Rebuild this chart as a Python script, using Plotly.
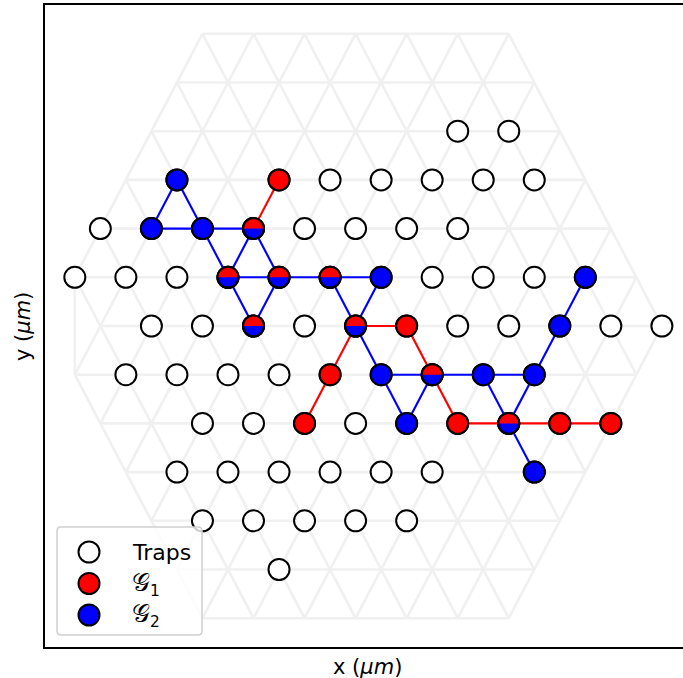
import numpy as np
import plotly.graph_objects as go

# ---------------- data (lattice indices: column c, row r) ----------------
# x = c * a / 2 ,  y = r * a * sqrt(3) / 2
lattice_spacing = 1.0
hex_side = 6
grid_missing_sites = [(-12, 0)]
grid_extra_edges = [((-11, 1), (-11, -1))]

trap_sites = [
    (4, 4), (6, 4),
    (-7, 3), (-3, 3), (-1, 3), (1, 3), (3, 3), (5, 3), (7, 3),
    (-10, 2), (-8, 2), (-6, 2), (-4, 2), (-2, 2), (0, 2), (2, 2), (4, 2),
    (-11, 1), (-9, 1), (-7, 1), (-5, 1), (-3, 1), (-1, 1), (1, 1), (3, 1), (5, 1), (7, 1), (9, 1),
    (-8, 0), (-6, 0), (-4, 0), (-2, 0), (0, 0), (2, 0), (4, 0), (6, 0), (8, 0), (10, 0), (12, 0),
    (-9, -1), (-7, -1), (-5, -1), (-3, -1), (-1, -1), (1, -1), (3, -1), (5, -1), (7, -1),
    (-6, -2), (-4, -2), (-2, -2), (0, -2), (2, -2), (4, -2), (6, -2), (8, -2), (10, -2),
    (-7, -3), (-5, -3), (-3, -3), (-1, -3), (1, -3), (3, -3), (7, -3),
    (-6, -4), (-4, -4), (-2, -4), (0, -4), (2, -4),
    (-3, -5),
]

g1_nodes = [(-3, 3), (-4, 2), (-5, 1), (-3, 1), (-1, 1), (-4, 0), (0, 0), (2, 0),
            (-1, -1), (3, -1), (-2, -2), (4, -2), (6, -2), (8, -2), (10, -2)]
g2_nodes = [(-7, 3), (-8, 2), (-6, 2), (-4, 2), (-5, 1), (-3, 1), (-1, 1), (1, 1), (9, 1),
            (-4, 0), (0, 0), (8, 0), (1, -1), (3, -1), (5, -1), (7, -1), (2, -2), (6, -2), (7, -3)]

g1_edges = [((-3, 3), (-4, 2)), ((-4, 2), (-5, 1)), ((-4, 2), (-3, 1)), ((-5, 1), (-3, 1)),
            ((-3, 1), (-1, 1)), ((-5, 1), (-4, 0)), ((-3, 1), (-4, 0)), ((-1, 1), (0, 0)),
            ((0, 0), (2, 0)), ((0, 0), (-1, -1)), ((-1, -1), (-2, -2)), ((2, 0), (3, -1)),
            ((3, -1), (4, -2)), ((4, -2), (6, -2)), ((6, -2), (8, -2)), ((8, -2), (10, -2))]
g2_edges = [((-7, 3), (-8, 2)), ((-7, 3), (-6, 2)), ((-8, 2), (-6, 2)), ((-6, 2), (-4, 2)),
            ((-6, 2), (-5, 1)), ((-4, 2), (-5, 1)), ((-4, 2), (-3, 1)), ((-5, 1), (-3, 1)),
            ((-3, 1), (-1, 1)), ((-1, 1), (1, 1)), ((-5, 1), (-4, 0)), ((-3, 1), (-4, 0)),
            ((-1, 1), (0, 0)), ((1, 1), (0, 0)), ((0, 0), (1, -1)), ((1, -1), (3, -1)),
            ((1, -1), (2, -2)), ((3, -1), (2, -2)), ((3, -1), (5, -1)), ((5, -1), (7, -1)),
            ((5, -1), (6, -2)), ((7, -1), (6, -2)), ((6, -2), (7, -3)), ((7, -1), (8, 0)),
            ((8, 0), (9, 1))]

legend_labels = ["Traps",
                 "<span style='font-size:25px'>\U0001D4A2</span><sub>1</sub>",
                 "<span style='font-size:25px'>\U0001D4A2</span><sub>2</sub>"]
legend_colors = ["white", "red", "blue"]

# ---------------- helpers ----------------
def to_xy(site):
    c, r = site
    return c * lattice_spacing / 2.0, r * lattice_spacing * np.sqrt(3) / 2.0


def edge_xy(edges):
    xs, ys = [], []
    for p, q in edges:
        x0, y0 = to_xy(p)
        x1, y1 = to_xy(q)
        xs += [x0, x1, None]
        ys += [y0, y1, None]
    return xs, ys


# background lattice (hexagon)
grid_sites = set()
for r in range(-hex_side, hex_side + 1):
    for c in range(-2 * hex_side + abs(r), 2 * hex_side - abs(r) + 1, 2):
        grid_sites.add((c, r))
for s in grid_missing_sites:
    grid_sites.discard(s)
grid_edges = []
for (c, r) in sorted(grid_sites):
    for dc, dr in [(2, 0), (1, 1), (-1, 1)]:
        nb = (c + dc, r + dr)
        if nb in grid_sites:
            grid_edges.append(((c, r), nb))
grid_edges += grid_extra_edges

fig = go.Figure()

gx, gy = edge_xy(grid_edges)
fig.add_trace(go.Scatter(x=gx, y=gy, mode="lines",
                         line=dict(color="#f0f0f0", width=2.6), hoverinfo="skip"))

# red edges that are hidden under blue ones are not drawn twice
g2_set = {frozenset(e) for e in g2_edges}
g1_visible = [e for e in g1_edges if frozenset(e) not in g2_set]
rx, ry = edge_xy(g1_visible)
fig.add_trace(go.Scatter(x=rx, y=ry, mode="lines",
                         line=dict(color="red", width=2.1), hoverinfo="skip"))
bx, by = edge_xy(g2_edges)
fig.add_trace(go.Scatter(x=bx, y=by, mode="lines",
                         line=dict(color="blue", width=2.1), hoverinfo="skip"))

MS = 21
MLW = 2


def node_trace(sites, color):
    pts = [to_xy(s) for s in sites]
    return go.Scatter(x=[p[0] for p in pts], y=[p[1] for p in pts], mode="markers",
                      marker=dict(size=MS, color=color, line=dict(color="black", width=MLW)),
                      hoverinfo="skip")


g1_only = [s for s in g1_nodes if s not in g2_nodes]
both = [s for s in g1_nodes if s in g2_nodes]

fig.add_trace(node_trace(trap_sites, "white"))
fig.add_trace(node_trace(g1_only, "red"))
fig.add_trace(node_trace(g2_nodes, "blue"))

shapes = []
R = MS / 2.0
theta = np.linspace(0, np.pi, 25)
half_path = "M " + " L ".join(f"{R*np.cos(t):.3f},{R*np.sin(t):.3f}" for t in theta) + " Z"
for s in both:
    x, y = to_xy(s)
    shapes.append(dict(type="path", xref="x", yref="y", xsizemode="pixel", ysizemode="pixel",
                       xanchor=x, yanchor=y, path=half_path, fillcolor="red",
                       line=dict(width=0), layer="above"))
    shapes.append(dict(type="circle", xref="x", yref="y", xsizemode="pixel", ysizemode="pixel",
                       xanchor=x, yanchor=y, x0=-R, x1=R, y0=-R, y1=R,
                       fillcolor="rgba(0,0,0,0)", line=dict(color="black", width=MLW),
                       layer="above"))

# ---------------- layout geometry (pixels) ----------------
W, H = 683, 678
ML, MR, MT, MB = 45, 0, 5, 31
PW, PH = W - ML - MR, H - MT - MB


def px2paper(px, py):
    return (px - ML) / PW, (H - MB - py) / PH


# legend frame with rounded corners
lx0, ly0 = px2paper(57, 635)
lx1, ly1 = px2paper(202, 527)
rxp, ryp = 4 / PW, 4 / PH
legend_path = (f"M {lx0+rxp},{ly0} L {lx1-rxp},{ly0} Q {lx1},{ly0} {lx1},{ly0+ryp} "
               f"L {lx1},{ly1-ryp} Q {lx1},{ly1} {lx1-rxp},{ly1} "
               f"L {lx0+rxp},{ly1} Q {lx0},{ly1} {lx0},{ly1-ryp} "
               f"L {lx0},{ly0+ryp} Q {lx0},{ly0} {lx0+rxp},{ly0} Z")
shapes.append(dict(type="path", xref="paper", yref="paper", path=legend_path,
                   fillcolor="rgba(255,255,255,0.8)", line=dict(color="#d0d0d0", width=1.5),
                   layer="above"))

annotations = []
legend_rows_px = [552, 583.5, 615]
for lab, col, py in zip(legend_labels, legend_colors, legend_rows_px):
    ax, ay = px2paper(89, py)
    shapes.append(dict(type="circle", xref="paper", yref="paper", xsizemode="pixel",
                       ysizemode="pixel", xanchor=ax, yanchor=ay, x0=-R, x1=R, y0=-R, y1=R,
                       fillcolor=col, line=dict(color="black", width=MLW), layer="above"))
    tx, ty = px2paper(130, py)
    annotations.append(dict(x=tx, y=ty, xref="paper", yref="paper", text=lab,
                            showarrow=False, xanchor="left", yanchor="middle",
                            font=dict(size=22, color="black", family="DejaVu Sans")))

xlx, xly = px2paper(367, 667)
annotations.append(dict(x=xlx, y=xly, xref="paper", yref="paper", text="x (<i>μm</i>)",
                        showarrow=False, xanchor="center", yanchor="middle",
                        font=dict(size=21, color="black", family="DejaVu Sans")))
ylx, yly = px2paper(23, 327)
annotations.append(dict(x=ylx, y=yly, xref="paper", yref="paper", text="y (<i>μm</i>)",
                        showarrow=False, xanchor="center", yanchor="middle", textangle=-90,
                        font=dict(size=21, color="black", family="DejaVu Sans")))

# axis ranges from pixel calibration of the lattice
x_center_px, x_unit_px = 355.6, 51.05
y_center_px, y_unit_px = 326.0, 48.7 / (np.sqrt(3) / 2)
x_range = [(ML - x_center_px) / x_unit_px, (W - MR - x_center_px) / x_unit_px]
y_range = [-(H - MB - y_center_px) / y_unit_px, (y_center_px - MT) / y_unit_px]

fig.update_layout(
    width=W, height=H, margin=dict(l=ML, r=MR, t=MT, b=MB),
    paper_bgcolor="white", plot_bgcolor="white", showlegend=False,
    shapes=shapes, annotations=annotations,
    font=dict(family="DejaVu Sans", color="black"),
    xaxis=dict(range=x_range, showgrid=False, zeroline=False, showticklabels=False,
               ticks="", showline=True, linecolor="black", linewidth=1.6, mirror=True),
    yaxis=dict(range=y_range, showgrid=False, zeroline=False, showticklabels=False,
               ticks="", showline=True, linecolor="black", linewidth=1.6),
)

fig.write_html("out.html", config={"displayModeBar": False},
               post_script="document.body.style.margin='0';document.body.style.padding='0';"
                           "document.body.style.overflow='hidden';")
